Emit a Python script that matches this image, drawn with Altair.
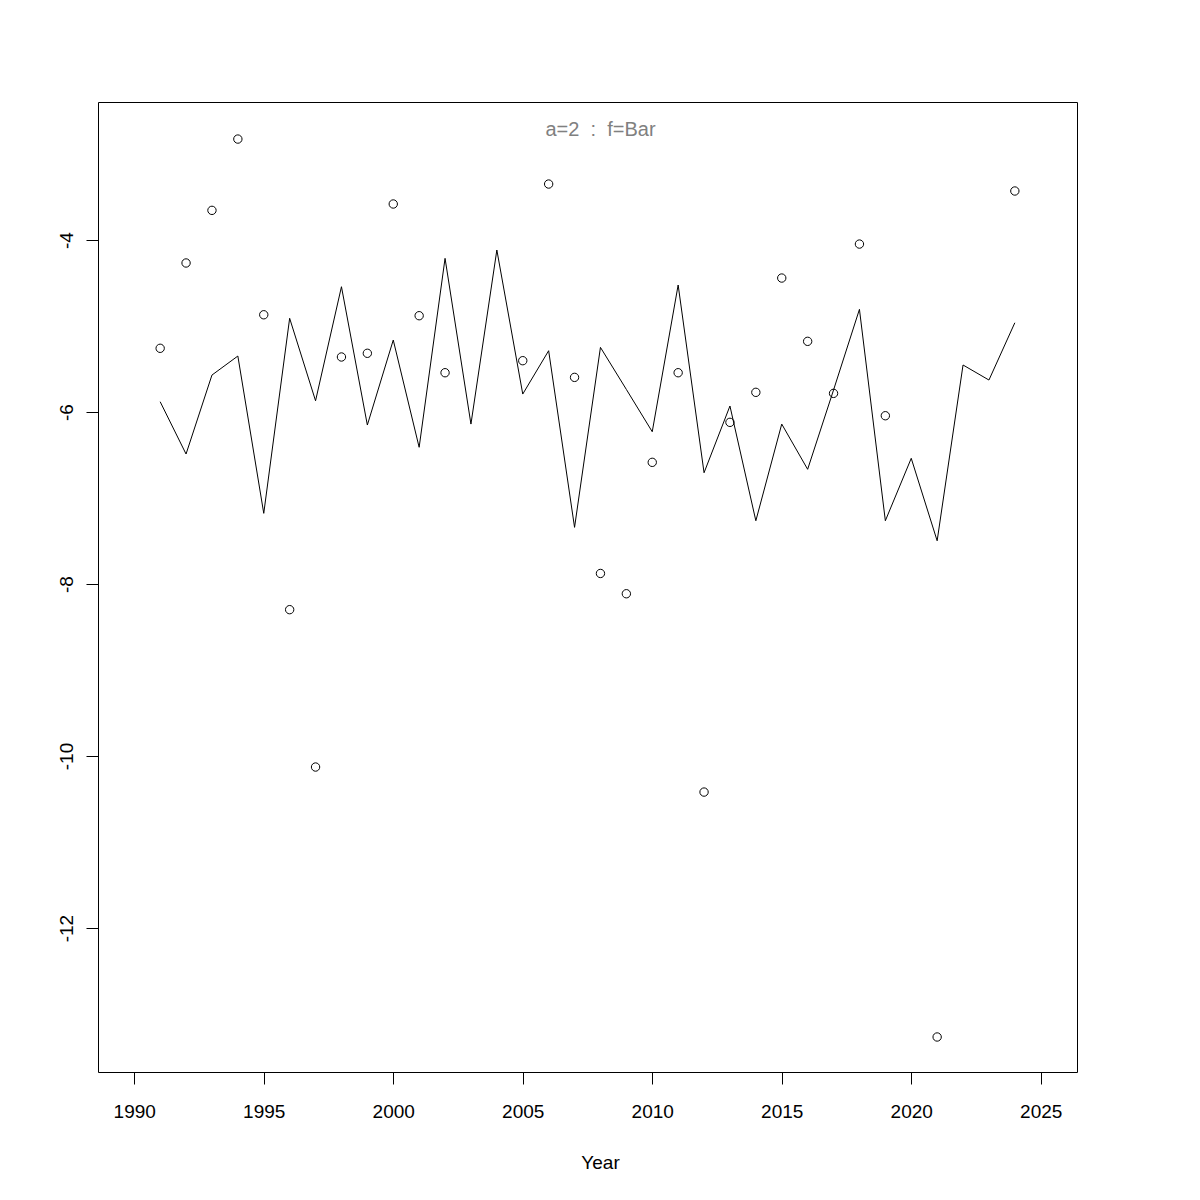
import altair as alt
import pandas as pd

years = list(range(1991, 2025))
line_vals = [-5.880, -6.488, -5.570, -5.349, -7.178, -4.910, -5.869, -4.543, -6.151, -5.163,
             -6.410, -4.213, -6.140, -4.116, -5.791, -5.287, -7.341, -5.248, -5.737, -6.229,
             -4.523, -6.706, -5.930, -7.264, -6.140, -6.666, -5.744, -4.806, -7.264, -6.538,
             -7.497, -5.453, -5.628, -4.962]

point_years = [1991, 1992, 1993, 1994, 1995, 1996, 1997, 1998, 1999, 2000, 2001, 2002,
               2005, 2006, 2007, 2008, 2009, 2010, 2011, 2012, 2013, 2014, 2015, 2016,
               2017, 2018, 2019, 2021, 2024]
point_vals = [-5.259, -4.267, -3.655, -2.826, -4.869, -8.298, -10.128, -5.360, -5.317, -3.581,
              -4.880, -5.543, -5.403, -3.349, -5.597, -7.877, -8.113, -6.585, -5.543, -10.419,
              -6.120, -5.771, -4.442, -5.178, -5.783, -4.047, -6.043, -13.267, -3.430]

x_ticks = [1990, 1995, 2000, 2005, 2010, 2015, 2020, 2025]
y_ticks = [-12, -10, -8, -6, -4]
title_text = "a=2\u00a0\u00a0:\u00a0\u00a0f=Bar"

line_df = pd.DataFrame({"Year": years, "value": line_vals})
pt_df = pd.DataFrame({"Year": point_years, "value": point_vals})

FONT = "Liberation Sans"

xscale = alt.Scale(domain=[1988.6, 2026.4], nice=False, zero=False)
yscale = alt.Scale(domain=[-13.674, -2.395], nice=False, zero=False)

xaxis = alt.Axis(values=x_ticks, format="d", grid=False, domain=False, ticks=True,
                 tickSize=12, tickColor="black", labelFontSize=19, labelFont=FONT,
                 labelColor="black", labelBaseline="alphabetic", labelPadding=33,
                 title="Year", titleFont=FONT, titleFontSize=19, titleFontWeight="normal",
                 titleColor="black", titleX=502, titleY=96, titleAlign="center",
                 titleBaseline="alphabetic", labelFlush=False, labelOverlap=False)
yaxis = alt.Axis(values=y_ticks, grid=False, domain=False, ticks=True, tickSize=12,
                 tickColor="black", labelFontSize=19, labelFont=FONT, labelColor="black",
                 labelExpr="datum.value < 0 ? '-' + abs(datum.value) : '' + datum.value",
                 labelAngle=270, labelAlign="center", labelBaseline="alphabetic",
                 labelPadding=14, title="", labelFlush=False, labelOverlap=False)

line = alt.Chart(line_df).mark_line(color="black", strokeWidth=1).encode(
    x=alt.X("Year:Q", scale=xscale, axis=xaxis),
    y=alt.Y("value:Q", scale=yscale, axis=yaxis),
)

points = alt.Chart(pt_df).mark_point(shape="circle", filled=False, color="black",
                                      strokeWidth=1, size=70, opacity=1).encode(
    x=alt.X("Year:Q", scale=xscale),
    y=alt.Y("value:Q", scale=yscale),
)

title = alt.Chart(pd.DataFrame({"t": [title_text]})).mark_text(
    font=FONT, fontSize=20, color="#808080", align="center", baseline="alphabetic"
).encode(x=alt.value(502.5), y=alt.value(34), text="t:N")

chart = alt.layer(line, points, title).properties(
    width=979, height=970,
    padding={"left": 90, "top": 94, "right": 20, "bottom": 120},
    autosize=alt.AutoSizeParams(type="none"),
    background="white",
).configure_view(stroke="black", strokeWidth=1)

chart.save("out.html", embed_options={"renderer": "svg", "actions": False})
